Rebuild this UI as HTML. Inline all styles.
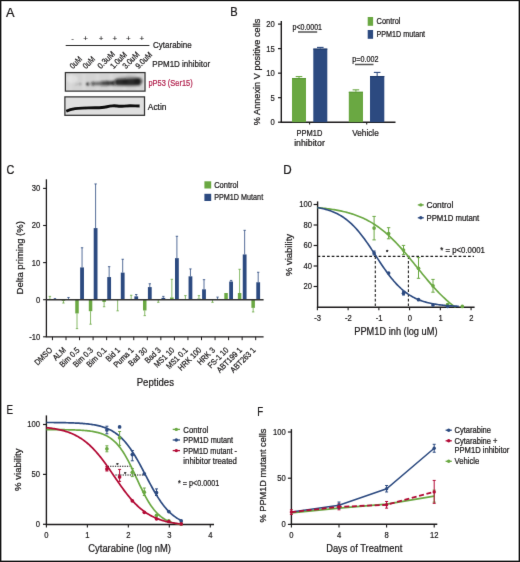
<!DOCTYPE html>
<html><head><meta charset="utf-8"><style>
html,body{margin:0;padding:0;background:#fff;}
body{width:520px;height:562px;overflow:hidden;}
svg{display:block;will-change:transform;font-family:"Liberation Sans", sans-serif;}
</style></head><body>
<svg width="520" height="562" viewBox="0 0 520 562" fill="#1c1a1b" stroke="none">
<defs><filter id="gblur" x="0" y="0" width="520" height="562" filterUnits="userSpaceOnUse" color-interpolation-filters="sRGB"><feConvolveMatrix order="3" kernelMatrix="0.00524 0.06192 0.00524 0.06192 0.73137 0.06192 0.00524 0.06192 0.00524" divisor="1" edgeMode="duplicate" preserveAlpha="true"/></filter></defs>
<rect x="0" y="0" width="520" height="562" fill="#fff"/>
<g filter="url(#gblur)">
<rect x="0" y="0" width="520" height="562" fill="#fff"/>
<text x="5.90" y="16.90" font-size="12.075" stroke="#1c1a1b" stroke-width="0.24" textLength="8.51" lengthAdjust="spacingAndGlyphs" >A</text>
<text x="72.60" y="40.90" font-size="8.0" text-anchor="middle" stroke="#1c1a1b" stroke-width="0.1" >-</text>
<text x="85.70" y="41.10" font-size="8.0" text-anchor="middle" stroke="#1c1a1b" stroke-width="0.12" >+</text>
<text x="101.20" y="41.10" font-size="8.0" text-anchor="middle" stroke="#1c1a1b" stroke-width="0.12" >+</text>
<text x="114.80" y="41.10" font-size="8.0" text-anchor="middle" stroke="#1c1a1b" stroke-width="0.12" >+</text>
<text x="128.30" y="41.10" font-size="8.0" text-anchor="middle" stroke="#1c1a1b" stroke-width="0.12" >+</text>
<text x="141.80" y="41.10" font-size="8.0" text-anchor="middle" stroke="#1c1a1b" stroke-width="0.12" >+</text>
<line x1="65.70" y1="45.50" x2="149.40" y2="45.50" stroke="#2a2a2a" stroke-width="1.0" />
<text x="153.12" y="47.90" font-size="9.66" stroke="#1c1a1b" stroke-width="0.24" textLength="38.57" lengthAdjust="spacingAndGlyphs" >Cytarabine</text>
<text transform="translate(72.96,69.30) rotate(-45)" font-size="8.2" stroke="#1c1a1b" stroke-width="0.24" textLength="13.57" lengthAdjust="spacingAndGlyphs" >0uM</text>
<text transform="translate(85.96,69.30) rotate(-45)" font-size="8.2" stroke="#1c1a1b" stroke-width="0.24" textLength="13.57" lengthAdjust="spacingAndGlyphs" >0uM</text>
<text transform="translate(100.66,69.30) rotate(-45)" font-size="8.2" stroke="#1c1a1b" stroke-width="0.24" textLength="20.93" lengthAdjust="spacingAndGlyphs" >0.3uM</text>
<text transform="translate(113.56,69.30) rotate(-45)" font-size="8.2" stroke="#1c1a1b" stroke-width="0.24" textLength="19.80" lengthAdjust="spacingAndGlyphs" >1.0uM</text>
<text transform="translate(125.76,69.30) rotate(-45)" font-size="8.2" stroke="#1c1a1b" stroke-width="0.24" textLength="20.08" lengthAdjust="spacingAndGlyphs" >3.0uM</text>
<text transform="translate(138.66,69.30) rotate(-45)" font-size="8.2" stroke="#1c1a1b" stroke-width="0.24" textLength="19.80" lengthAdjust="spacingAndGlyphs" >9.0uM</text>
<text x="152.32" y="66.80" font-size="9.66" stroke="#1c1a1b" stroke-width="0.24" textLength="57.77" lengthAdjust="spacingAndGlyphs" >PPM1D inhibitor</text>
<defs><filter id="bl" x="-20%" y="-50%" width="140%" height="200%"><feGaussianBlur stdDeviation="0.9"/></filter><filter id="bl2" x="-20%" y="-50%" width="140%" height="200%"><feGaussianBlur stdDeviation="0.5"/></filter><filter id="bl3" x="-20%" y="-50%" width="140%" height="200%"><feGaussianBlur stdDeviation="1.1"/></filter><clipPath id="cp1"><rect x="66" y="73.2" width="77.9" height="17.2"/></clipPath><clipPath id="cp2"><rect x="65.6" y="97.6" width="78.3" height="17.1"/></clipPath><linearGradient id="bg1" x1="0" x2="0" y1="0" y2="1"><stop offset="0" stop-color="#e2e2e2"/><stop offset="0.5" stop-color="#e8e8e8"/><stop offset="1" stop-color="#e4e4e4"/></linearGradient></defs>
<rect x="65.00" y="72.50" width="80.00" height="18.50" fill="#eeeeee" />
<rect x="66.30" y="73.60" width="77.40" height="16.30" fill="#d3d3d3" filter="url(#bl2)"/>
<g clip-path="url(#cp1)">
<g filter="url(#bl)">
<rect x="69.3" y="73" width="2.4" height="18" fill="#fff" fill-opacity="0.18"/>
<rect x="82.8" y="73" width="2.4" height="18" fill="#fff" fill-opacity="0.18"/>
<rect x="96.3" y="73" width="2.4" height="18" fill="#fff" fill-opacity="0.18"/>
<rect x="109.8" y="73" width="2.4" height="18" fill="#fff" fill-opacity="0.18"/>
<rect x="123.3" y="73" width="2.4" height="18" fill="#fff" fill-opacity="0.18"/>
<rect x="136.8" y="73" width="2.4" height="18" fill="#fff" fill-opacity="0.18"/>
<ellipse cx="72" cy="79" rx="6" ry="4" fill="#fff" fill-opacity="0.3"/>
<ellipse cx="76.5" cy="84.1" rx="1.2" ry="1.0" fill="#111" fill-opacity="0.25"/>
<ellipse cx="80.6" cy="84.1" rx="1.3" ry="1.1" fill="#111" fill-opacity="0.45"/>
<ellipse cx="87.4" cy="84.1" rx="1.6" ry="1.5" fill="#111" fill-opacity="1.0"/>
<defs><linearGradient id="bandg" x1="0" x2="1" y1="0" y2="0"><stop offset="0" stop-color="#111" stop-opacity="0.45"/><stop offset="0.5" stop-color="#111" stop-opacity="0.55"/><stop offset="1" stop-color="#111" stop-opacity="0.75"/></linearGradient></defs>
<path d="M91.5,82 Q100,81.2 115,80.6 L115,85.8 Q100,85.8 91.5,85.4 Q90.3,83.7 91.5,82Z" fill="url(#bandg)"/>
<ellipse cx="92.7" cy="83.6" rx="1.4" ry="1.6" fill="#111" fill-opacity="0.45"/>
<ellipse cx="103.5" cy="83.0" rx="1.6" ry="2.0" fill="#111" fill-opacity="0.4"/>
<ellipse cx="107.2" cy="82.8" rx="1.7" ry="2.0" fill="#111" fill-opacity="0.45"/>
<ellipse cx="111.7" cy="82.6" rx="1.5" ry="1.8" fill="#111" fill-opacity="0.35"/>
</g>
<g filter="url(#bl3)">
<path d="M116,79.2 L139.5,78.0 Q143,81 139.8,85.4 L116,85.6 Q113.5,82.4 116,79.2Z" fill="#151515" fill-opacity="0.82"/>
<ellipse cx="129" cy="81" rx="15" ry="5.2" fill="#111" fill-opacity="0.2"/>
<ellipse cx="125" cy="81.5" rx="3" ry="2.6" fill="#000" fill-opacity="0.35"/>
<ellipse cx="137" cy="81.2" rx="3" ry="2.8" fill="#000" fill-opacity="0.45"/>
</g></g>
<rect x="65.4" y="72.6" width="79.6" height="18.5" fill="none" stroke="#333" stroke-width="1.3"/>
<rect x="64.90" y="96.90" width="79.60" height="18.40" fill="#eeeeee" />
<rect x="66.10" y="98.00" width="77.30" height="16.50" fill="#dfdfdf" filter="url(#bl2)"/>
<g clip-path="url(#cp2)"><g filter="url(#bl2)">
<path d="M66.2,111.3 C68,110.4 71,109.2 75,108.6 S82,108.2 88,107.9 S98,107.9 102,107.5 S108,106.3 112.2,105.9 S117,106.3 120.2,106.3 S126,105.8 130,105.8 S136,106 139.6,106.0" fill="none" stroke="#111" stroke-width="2.9" />
</g></g>
<rect x="64.9" y="96.9" width="79.6" height="18.4" fill="none" stroke="#333" stroke-width="1.3"/>
<text x="148.44" y="85.60" font-size="9.2" fill="#b2224e" stroke="#b2224e" stroke-width="0.24" textLength="44.22" lengthAdjust="spacingAndGlyphs" >pP53 (Ser15)</text>
<text x="147.82" y="109.90" font-size="9.66" stroke="#1c1a1b" stroke-width="0.24" textLength="18.67" lengthAdjust="spacingAndGlyphs" >Actin</text>
<text x="230.30" y="16.00" font-size="12.075" stroke="#1c1a1b" stroke-width="0.24" textLength="7.41" lengthAdjust="spacingAndGlyphs" >B</text>
<line x1="281.30" y1="20.90" x2="281.30" y2="122.20" stroke="#1c1a1b" stroke-width="1.4" />
<line x1="280.60" y1="122.20" x2="395.50" y2="122.20" stroke="#1c1a1b" stroke-width="1.4" />
<line x1="278.00" y1="122.20" x2="281.30" y2="122.20" stroke="#1c1a1b" stroke-width="1.2" />
<text x="274.70" y="125.10" font-size="8.5" text-anchor="end" stroke="#1c1a1b" stroke-width="0.2" textLength="4.25" lengthAdjust="spacingAndGlyphs" >0</text>
<line x1="278.00" y1="97.68" x2="281.30" y2="97.68" stroke="#1c1a1b" stroke-width="1.2" />
<text x="274.70" y="100.58" font-size="8.5" text-anchor="end" stroke="#1c1a1b" stroke-width="0.2" textLength="4.25" lengthAdjust="spacingAndGlyphs" >5</text>
<line x1="278.00" y1="73.15" x2="281.30" y2="73.15" stroke="#1c1a1b" stroke-width="1.2" />
<text x="274.70" y="76.05" font-size="8.5" text-anchor="end" stroke="#1c1a1b" stroke-width="0.2" textLength="8.51" lengthAdjust="spacingAndGlyphs" >10</text>
<line x1="278.00" y1="48.62" x2="281.30" y2="48.62" stroke="#1c1a1b" stroke-width="1.2" />
<text x="274.70" y="51.52" font-size="8.5" text-anchor="end" stroke="#1c1a1b" stroke-width="0.2" textLength="8.51" lengthAdjust="spacingAndGlyphs" >15</text>
<line x1="278.00" y1="24.10" x2="281.30" y2="24.10" stroke="#1c1a1b" stroke-width="1.2" />
<text x="274.70" y="27.00" font-size="8.5" text-anchor="end" stroke="#1c1a1b" stroke-width="0.2" textLength="8.51" lengthAdjust="spacingAndGlyphs" >20</text>
<line x1="309.60" y1="122.20" x2="309.60" y2="124.60" stroke="#1c1a1b" stroke-width="1.1" />
<line x1="366.70" y1="122.20" x2="366.70" y2="124.60" stroke="#1c1a1b" stroke-width="1.1" />
<rect x="292.00" y="78.06" width="14.00" height="44.14" fill="#6aa842" />
<rect x="292.00" y="78.06" width="14.00" height="1.00" fill="#5a9735" />
<line x1="299.00" y1="78.06" x2="299.00" y2="76.58" stroke="#6aa842" stroke-width="1.0" />
<line x1="295.70" y1="76.58" x2="302.30" y2="76.58" stroke="#6aa842" stroke-width="1.1" />
<rect x="313.30" y="48.62" width="14.00" height="73.58" fill="#2c4a80" />
<rect x="313.30" y="48.62" width="14.00" height="1.00" fill="#1d3868" />
<line x1="320.30" y1="48.62" x2="320.30" y2="47.40" stroke="#2c4a80" stroke-width="1.0" />
<line x1="317.00" y1="47.40" x2="323.60" y2="47.40" stroke="#2c4a80" stroke-width="1.1" />
<rect x="348.80" y="91.79" width="14.20" height="30.41" fill="#6aa842" />
<rect x="348.80" y="91.79" width="14.20" height="1.00" fill="#5a9735" />
<line x1="355.90" y1="91.79" x2="355.90" y2="89.83" stroke="#6aa842" stroke-width="1.0" />
<line x1="352.60" y1="89.83" x2="359.20" y2="89.83" stroke="#6aa842" stroke-width="1.1" />
<rect x="370.00" y="76.09" width="14.30" height="46.11" fill="#2c4a80" />
<rect x="370.00" y="76.09" width="14.30" height="1.00" fill="#1d3868" />
<line x1="377.15" y1="76.09" x2="377.15" y2="72.41" stroke="#2c4a80" stroke-width="1.0" />
<line x1="373.85" y1="72.41" x2="380.45" y2="72.41" stroke="#2c4a80" stroke-width="1.1" />
<text x="292.47" y="30.10" font-size="8.625" stroke="#1c1a1b" stroke-width="0.24" textLength="29.56" lengthAdjust="spacingAndGlyphs" >p&lt;0.0001</text>
<line x1="298.00" y1="32.00" x2="317.20" y2="32.00" stroke="#555" stroke-width="1.5" />
<text x="352.27" y="62.00" font-size="8.625" stroke="#1c1a1b" stroke-width="0.24" textLength="26.16" lengthAdjust="spacingAndGlyphs" >p=0.002</text>
<line x1="355.00" y1="64.50" x2="373.50" y2="64.50" stroke="#555" stroke-width="1.5" />
<rect x="367.70" y="17.00" width="5.40" height="8.80" fill="#6aa842" />
<rect x="367.70" y="30.00" width="5.40" height="8.80" fill="#2c4a80" />
<text x="376.56" y="23.80" font-size="8.739999999999998" stroke="#1c1a1b" stroke-width="0.24" textLength="23.87" lengthAdjust="spacingAndGlyphs" >Control</text>
<text x="376.56" y="36.90" font-size="8.739999999999998" stroke="#1c1a1b" stroke-width="0.24" textLength="48.57" lengthAdjust="spacingAndGlyphs" >PPM1D mutant</text>
<text x="296.45" y="135.80" font-size="8.969999999999999" stroke="#1c1a1b" stroke-width="0.24" textLength="25.90" lengthAdjust="spacingAndGlyphs" >PPM1D</text>
<text x="294.15" y="145.60" font-size="8.969999999999999" stroke="#1c1a1b" stroke-width="0.24" textLength="30.70" lengthAdjust="spacingAndGlyphs" >inhibitor</text>
<text x="352.25" y="135.80" font-size="8.969999999999999" stroke="#1c1a1b" stroke-width="0.24" textLength="26.50" lengthAdjust="spacingAndGlyphs" >Vehicle</text>
<text transform="translate(260.20,71.90) rotate(-90)" font-size="9.8" text-anchor="middle" stroke="#1c1a1b" stroke-width="0.24" textLength="106.50" lengthAdjust="spacingAndGlyphs" >% Annexin V positive cells</text>
<text x="6.40" y="174.40" font-size="12.075" stroke="#1c1a1b" stroke-width="0.24" textLength="7.81" lengthAdjust="spacingAndGlyphs" >C</text>
<line x1="46.40" y1="179.30" x2="46.40" y2="336.80" stroke="#1c1a1b" stroke-width="1.3" />
<line x1="43.10" y1="188.40" x2="46.40" y2="188.40" stroke="#1c1a1b" stroke-width="1.1" />
<text x="40.20" y="191.30" font-size="8.5" text-anchor="end" stroke="#1c1a1b" stroke-width="0.2" textLength="8.51" lengthAdjust="spacingAndGlyphs" >30</text>
<line x1="43.10" y1="225.50" x2="46.40" y2="225.50" stroke="#1c1a1b" stroke-width="1.1" />
<text x="40.20" y="228.40" font-size="8.5" text-anchor="end" stroke="#1c1a1b" stroke-width="0.2" textLength="8.51" lengthAdjust="spacingAndGlyphs" >20</text>
<line x1="43.10" y1="262.60" x2="46.40" y2="262.60" stroke="#1c1a1b" stroke-width="1.1" />
<text x="40.20" y="265.50" font-size="8.5" text-anchor="end" stroke="#1c1a1b" stroke-width="0.2" textLength="8.51" lengthAdjust="spacingAndGlyphs" >10</text>
<line x1="43.10" y1="299.70" x2="46.40" y2="299.70" stroke="#1c1a1b" stroke-width="1.1" />
<text x="40.20" y="302.60" font-size="8.5" text-anchor="end" stroke="#1c1a1b" stroke-width="0.2" textLength="4.25" lengthAdjust="spacingAndGlyphs" >0</text>
<line x1="43.10" y1="336.80" x2="46.40" y2="336.80" stroke="#1c1a1b" stroke-width="1.1" />
<text x="40.20" y="339.70" font-size="8.5" text-anchor="end" stroke="#1c1a1b" stroke-width="0.2" textLength="11.06" lengthAdjust="spacingAndGlyphs" >-10</text>
<rect x="48.15" y="298.96" width="3.50" height="0.74" fill="#6aa842" />
<line x1="49.90" y1="298.96" x2="49.90" y2="296.36" stroke="#6aa842" stroke-width="0.8" />
<line x1="48.70" y1="296.36" x2="51.10" y2="296.36" stroke="#6aa842" stroke-width="0.8" />
<rect x="53.05" y="299.33" width="3.80" height="0.37" fill="#2c4a80" />
<line x1="54.95" y1="299.33" x2="54.95" y2="298.59" stroke="#2c4a80" stroke-width="0.8" />
<line x1="53.75" y1="298.59" x2="56.15" y2="298.59" stroke="#2c4a80" stroke-width="0.8" />
<rect x="61.70" y="299.70" width="3.50" height="1.11" fill="#6aa842" />
<line x1="63.45" y1="300.81" x2="63.45" y2="303.04" stroke="#6aa842" stroke-width="0.8" />
<line x1="62.25" y1="303.04" x2="64.65" y2="303.04" stroke="#6aa842" stroke-width="0.8" />
<rect x="66.60" y="298.96" width="3.80" height="0.74" fill="#2c4a80" />
<line x1="68.50" y1="298.96" x2="68.50" y2="297.47" stroke="#2c4a80" stroke-width="0.8" />
<line x1="67.30" y1="297.47" x2="69.70" y2="297.47" stroke="#2c4a80" stroke-width="0.8" />
<rect x="75.25" y="299.70" width="3.50" height="13.73" fill="#6aa842" />
<line x1="77.00" y1="313.43" x2="77.00" y2="328.64" stroke="#6aa842" stroke-width="0.8" />
<line x1="75.80" y1="328.64" x2="78.20" y2="328.64" stroke="#6aa842" stroke-width="0.8" />
<rect x="80.15" y="267.42" width="3.80" height="32.28" fill="#2c4a80" />
<line x1="82.05" y1="267.42" x2="82.05" y2="247.76" stroke="#2c4a80" stroke-width="0.8" />
<line x1="80.85" y1="247.76" x2="83.25" y2="247.76" stroke="#2c4a80" stroke-width="0.8" />
<rect x="88.80" y="299.70" width="3.50" height="11.50" fill="#6aa842" />
<line x1="90.55" y1="311.20" x2="90.55" y2="324.19" stroke="#6aa842" stroke-width="0.8" />
<line x1="89.35" y1="324.19" x2="91.75" y2="324.19" stroke="#6aa842" stroke-width="0.8" />
<rect x="93.70" y="228.10" width="3.80" height="71.60" fill="#2c4a80" />
<line x1="95.60" y1="228.10" x2="95.60" y2="183.95" stroke="#2c4a80" stroke-width="0.8" />
<line x1="94.40" y1="183.95" x2="96.80" y2="183.95" stroke="#2c4a80" stroke-width="0.8" />
<rect x="102.35" y="299.70" width="3.50" height="2.23" fill="#6aa842" />
<line x1="104.10" y1="301.93" x2="104.10" y2="306.75" stroke="#6aa842" stroke-width="0.8" />
<line x1="102.90" y1="306.75" x2="105.30" y2="306.75" stroke="#6aa842" stroke-width="0.8" />
<rect x="107.25" y="277.07" width="3.80" height="22.63" fill="#2c4a80" />
<line x1="109.15" y1="277.07" x2="109.15" y2="266.68" stroke="#2c4a80" stroke-width="0.8" />
<line x1="107.95" y1="266.68" x2="110.35" y2="266.68" stroke="#2c4a80" stroke-width="0.8" />
<rect x="115.90" y="299.70" width="3.50" height="0.37" fill="#6aa842" />
<line x1="117.65" y1="300.07" x2="117.65" y2="310.83" stroke="#6aa842" stroke-width="0.8" />
<line x1="116.45" y1="310.83" x2="118.85" y2="310.83" stroke="#6aa842" stroke-width="0.8" />
<rect x="120.80" y="272.62" width="3.80" height="27.08" fill="#2c4a80" />
<line x1="122.70" y1="272.62" x2="122.70" y2="259.26" stroke="#2c4a80" stroke-width="0.8" />
<line x1="121.50" y1="259.26" x2="123.90" y2="259.26" stroke="#2c4a80" stroke-width="0.8" />
<rect x="129.45" y="298.96" width="3.50" height="0.74" fill="#6aa842" />
<line x1="131.20" y1="298.96" x2="131.20" y2="295.25" stroke="#6aa842" stroke-width="0.8" />
<line x1="130.00" y1="295.25" x2="132.40" y2="295.25" stroke="#6aa842" stroke-width="0.8" />
<rect x="134.35" y="296.36" width="3.80" height="3.34" fill="#2c4a80" />
<line x1="136.25" y1="296.36" x2="136.25" y2="294.51" stroke="#2c4a80" stroke-width="0.8" />
<line x1="135.05" y1="294.51" x2="137.45" y2="294.51" stroke="#2c4a80" stroke-width="0.8" />
<rect x="143.00" y="299.70" width="3.50" height="10.76" fill="#6aa842" />
<line x1="144.75" y1="310.46" x2="144.75" y2="315.65" stroke="#6aa842" stroke-width="0.8" />
<line x1="143.55" y1="315.65" x2="145.95" y2="315.65" stroke="#6aa842" stroke-width="0.8" />
<rect x="147.90" y="287.09" width="3.80" height="12.61" fill="#2c4a80" />
<line x1="149.80" y1="287.09" x2="149.80" y2="283.75" stroke="#2c4a80" stroke-width="0.8" />
<line x1="148.60" y1="283.75" x2="151.00" y2="283.75" stroke="#2c4a80" stroke-width="0.8" />
<rect x="156.55" y="299.70" width="3.50" height="0.37" fill="#6aa842" />
<line x1="158.30" y1="300.07" x2="158.30" y2="302.30" stroke="#6aa842" stroke-width="0.8" />
<line x1="157.10" y1="302.30" x2="159.50" y2="302.30" stroke="#6aa842" stroke-width="0.8" />
<rect x="161.45" y="297.84" width="3.80" height="1.86" fill="#2c4a80" />
<line x1="163.35" y1="297.84" x2="163.35" y2="296.36" stroke="#2c4a80" stroke-width="0.8" />
<line x1="162.15" y1="296.36" x2="164.55" y2="296.36" stroke="#2c4a80" stroke-width="0.8" />
<rect x="170.10" y="297.47" width="3.50" height="2.23" fill="#6aa842" />
<line x1="171.85" y1="297.47" x2="171.85" y2="279.29" stroke="#6aa842" stroke-width="0.8" />
<line x1="170.65" y1="279.29" x2="173.05" y2="279.29" stroke="#6aa842" stroke-width="0.8" />
<rect x="175.00" y="258.15" width="3.80" height="41.55" fill="#2c4a80" />
<line x1="176.90" y1="258.15" x2="176.90" y2="236.26" stroke="#2c4a80" stroke-width="0.8" />
<line x1="175.70" y1="236.26" x2="178.10" y2="236.26" stroke="#2c4a80" stroke-width="0.8" />
<rect x="183.65" y="299.33" width="3.50" height="0.37" fill="#6aa842" />
<line x1="185.40" y1="299.33" x2="185.40" y2="295.62" stroke="#6aa842" stroke-width="0.8" />
<line x1="184.20" y1="295.62" x2="186.60" y2="295.62" stroke="#6aa842" stroke-width="0.8" />
<rect x="188.55" y="276.33" width="3.80" height="23.37" fill="#2c4a80" />
<line x1="190.45" y1="276.33" x2="190.45" y2="268.91" stroke="#2c4a80" stroke-width="0.8" />
<line x1="189.25" y1="268.91" x2="191.65" y2="268.91" stroke="#2c4a80" stroke-width="0.8" />
<rect x="197.20" y="298.59" width="3.50" height="1.11" fill="#6aa842" />
<line x1="198.95" y1="298.59" x2="198.95" y2="295.62" stroke="#6aa842" stroke-width="0.8" />
<line x1="197.75" y1="295.62" x2="200.15" y2="295.62" stroke="#6aa842" stroke-width="0.8" />
<rect x="202.10" y="289.31" width="3.80" height="10.39" fill="#2c4a80" />
<line x1="204.00" y1="289.31" x2="204.00" y2="279.67" stroke="#2c4a80" stroke-width="0.8" />
<line x1="202.80" y1="279.67" x2="205.20" y2="279.67" stroke="#2c4a80" stroke-width="0.8" />
<rect x="210.75" y="299.70" width="3.50" height="0.37" fill="#6aa842" />
<line x1="212.50" y1="300.07" x2="212.50" y2="302.30" stroke="#6aa842" stroke-width="0.8" />
<line x1="211.30" y1="302.30" x2="213.70" y2="302.30" stroke="#6aa842" stroke-width="0.8" />
<rect x="215.65" y="298.96" width="3.80" height="0.74" fill="#2c4a80" />
<line x1="217.55" y1="298.96" x2="217.55" y2="297.10" stroke="#2c4a80" stroke-width="0.8" />
<line x1="216.35" y1="297.10" x2="218.75" y2="297.10" stroke="#2c4a80" stroke-width="0.8" />
<rect x="224.30" y="293.02" width="3.50" height="6.68" fill="#6aa842" />
<rect x="229.20" y="281.52" width="3.80" height="18.18" fill="#2c4a80" />
<line x1="231.10" y1="281.52" x2="231.10" y2="280.41" stroke="#2c4a80" stroke-width="0.8" />
<line x1="229.90" y1="280.41" x2="232.30" y2="280.41" stroke="#2c4a80" stroke-width="0.8" />
<rect x="237.85" y="293.02" width="3.50" height="6.68" fill="#6aa842" />
<line x1="239.60" y1="293.02" x2="239.60" y2="269.28" stroke="#6aa842" stroke-width="0.8" />
<line x1="238.40" y1="269.28" x2="240.80" y2="269.28" stroke="#6aa842" stroke-width="0.8" />
<rect x="242.75" y="254.44" width="3.80" height="45.26" fill="#2c4a80" />
<line x1="244.65" y1="254.44" x2="244.65" y2="230.32" stroke="#2c4a80" stroke-width="0.8" />
<line x1="243.45" y1="230.32" x2="245.85" y2="230.32" stroke="#2c4a80" stroke-width="0.8" />
<rect x="251.40" y="299.70" width="3.50" height="8.16" fill="#6aa842" />
<line x1="253.15" y1="307.86" x2="253.15" y2="311.94" stroke="#6aa842" stroke-width="0.8" />
<line x1="251.95" y1="311.94" x2="254.35" y2="311.94" stroke="#6aa842" stroke-width="0.8" />
<rect x="256.30" y="282.26" width="3.80" height="17.44" fill="#2c4a80" />
<line x1="258.20" y1="282.26" x2="258.20" y2="272.25" stroke="#2c4a80" stroke-width="0.8" />
<line x1="257.00" y1="272.25" x2="259.40" y2="272.25" stroke="#2c4a80" stroke-width="0.8" />
<line x1="46.40" y1="299.70" x2="263.60" y2="299.70" stroke="#333" stroke-width="1.4" />
<line x1="45.80" y1="336.80" x2="263.60" y2="336.80" stroke="#1c1a1b" stroke-width="1.3" />
<line x1="52.45" y1="336.80" x2="52.45" y2="340.20" stroke="#1c1a1b" stroke-width="1.0" />
<text transform="translate(52.85,350.60) rotate(-45)" font-size="8.2" text-anchor="end" stroke="#1c1a1b" stroke-width="0.24" textLength="21.52" lengthAdjust="spacingAndGlyphs" >DMSO</text>
<line x1="66.00" y1="336.80" x2="66.00" y2="340.20" stroke="#1c1a1b" stroke-width="1.0" />
<text transform="translate(66.40,350.60) rotate(-45)" font-size="8.2" text-anchor="end" stroke="#1c1a1b" stroke-width="0.24" textLength="14.75" lengthAdjust="spacingAndGlyphs" >ALM</text>
<line x1="79.55" y1="336.80" x2="79.55" y2="340.20" stroke="#1c1a1b" stroke-width="1.0" />
<text transform="translate(79.95,350.60) rotate(-45)" font-size="8.2" text-anchor="end" stroke="#1c1a1b" stroke-width="0.24" textLength="24.32" lengthAdjust="spacingAndGlyphs" >Bim 0.5</text>
<line x1="93.10" y1="336.80" x2="93.10" y2="340.20" stroke="#1c1a1b" stroke-width="1.0" />
<text transform="translate(93.50,350.60) rotate(-45)" font-size="8.2" text-anchor="end" stroke="#1c1a1b" stroke-width="0.24" textLength="24.32" lengthAdjust="spacingAndGlyphs" >Bim 0.3</text>
<line x1="106.65" y1="336.80" x2="106.65" y2="340.20" stroke="#1c1a1b" stroke-width="1.0" />
<text transform="translate(107.05,350.60) rotate(-45)" font-size="8.2" text-anchor="end" stroke="#1c1a1b" stroke-width="0.24" textLength="24.32" lengthAdjust="spacingAndGlyphs" >Bim 0.1</text>
<line x1="120.20" y1="336.80" x2="120.20" y2="340.20" stroke="#1c1a1b" stroke-width="1.0" />
<text transform="translate(120.60,350.60) rotate(-45)" font-size="8.2" text-anchor="end" stroke="#1c1a1b" stroke-width="0.24" textLength="16.35" lengthAdjust="spacingAndGlyphs" >Bid 1</text>
<line x1="133.75" y1="336.80" x2="133.75" y2="340.20" stroke="#1c1a1b" stroke-width="1.0" />
<text transform="translate(134.15,350.60) rotate(-45)" font-size="8.2" text-anchor="end" stroke="#1c1a1b" stroke-width="0.24" textLength="24.73" lengthAdjust="spacingAndGlyphs" >Puma 1</text>
<line x1="147.30" y1="336.80" x2="147.30" y2="340.20" stroke="#1c1a1b" stroke-width="1.0" />
<text transform="translate(147.70,350.60) rotate(-45)" font-size="8.2" text-anchor="end" stroke="#1c1a1b" stroke-width="0.24" textLength="22.74" lengthAdjust="spacingAndGlyphs" >Bad 30</text>
<line x1="160.85" y1="336.80" x2="160.85" y2="340.20" stroke="#1c1a1b" stroke-width="1.0" />
<text transform="translate(161.25,350.60) rotate(-45)" font-size="8.2" text-anchor="end" stroke="#1c1a1b" stroke-width="0.24" textLength="18.75" lengthAdjust="spacingAndGlyphs" >Bad 3</text>
<line x1="174.40" y1="336.80" x2="174.40" y2="340.20" stroke="#1c1a1b" stroke-width="1.0" />
<text transform="translate(174.80,350.60) rotate(-45)" font-size="8.2" text-anchor="end" stroke="#1c1a1b" stroke-width="0.24" textLength="24.73" lengthAdjust="spacingAndGlyphs" >MS1 10</text>
<line x1="187.95" y1="336.80" x2="187.95" y2="340.20" stroke="#1c1a1b" stroke-width="1.0" />
<text transform="translate(188.35,350.60) rotate(-45)" font-size="8.2" text-anchor="end" stroke="#1c1a1b" stroke-width="0.24" textLength="26.72" lengthAdjust="spacingAndGlyphs" >MS1 0.1</text>
<line x1="201.50" y1="336.80" x2="201.50" y2="340.20" stroke="#1c1a1b" stroke-width="1.0" />
<text transform="translate(201.90,350.60) rotate(-45)" font-size="8.2" text-anchor="end" stroke="#1c1a1b" stroke-width="0.24" textLength="29.11" lengthAdjust="spacingAndGlyphs" >HRK 100</text>
<line x1="215.05" y1="336.80" x2="215.05" y2="340.20" stroke="#1c1a1b" stroke-width="1.0" />
<text transform="translate(215.45,350.60) rotate(-45)" font-size="8.2" text-anchor="end" stroke="#1c1a1b" stroke-width="0.24" textLength="21.13" lengthAdjust="spacingAndGlyphs" >HRK 3</text>
<line x1="228.60" y1="336.80" x2="228.60" y2="340.20" stroke="#1c1a1b" stroke-width="1.0" />
<text transform="translate(229.00,350.60) rotate(-45)" font-size="8.2" text-anchor="end" stroke="#1c1a1b" stroke-width="0.24" textLength="25.52" lengthAdjust="spacingAndGlyphs" >FS-1 10</text>
<line x1="242.15" y1="336.80" x2="242.15" y2="340.20" stroke="#1c1a1b" stroke-width="1.0" />
<text transform="translate(242.55,350.60) rotate(-45)" font-size="8.2" text-anchor="end" stroke="#1c1a1b" stroke-width="0.24" textLength="31.91" lengthAdjust="spacingAndGlyphs" >ABT199 1</text>
<line x1="255.70" y1="336.80" x2="255.70" y2="340.20" stroke="#1c1a1b" stroke-width="1.0" />
<text transform="translate(256.10,350.60) rotate(-45)" font-size="8.2" text-anchor="end" stroke="#1c1a1b" stroke-width="0.24" textLength="31.91" lengthAdjust="spacingAndGlyphs" >ABT263 1</text>
<text x="136.75" y="385.60" font-size="11.04" stroke="#1c1a1b" stroke-width="0.24" textLength="37.20" lengthAdjust="spacingAndGlyphs" >Peptides</text>
<text transform="translate(22.80,257.80) rotate(-90)" font-size="9.8" text-anchor="middle" stroke="#1c1a1b" stroke-width="0.24" textLength="73.20" lengthAdjust="spacingAndGlyphs" >Delta priming (%)</text>
<rect x="204.40" y="181.30" width="6.80" height="7.20" fill="#6aa842" />
<rect x="204.40" y="193.80" width="6.80" height="7.20" fill="#2c4a80" />
<text x="214.15" y="187.60" font-size="8.969999999999999" stroke="#1c1a1b" stroke-width="0.24" textLength="24.30" lengthAdjust="spacingAndGlyphs" >Control</text>
<text x="214.15" y="199.90" font-size="8.969999999999999" stroke="#1c1a1b" stroke-width="0.24" textLength="49.00" lengthAdjust="spacingAndGlyphs" >PPM1D Mutant</text>
<text x="283.20" y="174.00" font-size="12.075" stroke="#1c1a1b" stroke-width="0.24" textLength="8.41" lengthAdjust="spacingAndGlyphs" >D</text>
<line x1="317.60" y1="201.40" x2="317.60" y2="307.30" stroke="#1c1a1b" stroke-width="1.4" />
<line x1="316.90" y1="307.30" x2="474.60" y2="307.30" stroke="#1c1a1b" stroke-width="1.4" />
<line x1="313.60" y1="286.50" x2="317.60" y2="286.50" stroke="#1c1a1b" stroke-width="1.2" />
<text x="312.00" y="289.40" font-size="8.5" text-anchor="end" stroke="#1c1a1b" stroke-width="0.2" textLength="8.51" lengthAdjust="spacingAndGlyphs" >20</text>
<line x1="313.60" y1="266.00" x2="317.60" y2="266.00" stroke="#1c1a1b" stroke-width="1.2" />
<text x="312.00" y="268.90" font-size="8.5" text-anchor="end" stroke="#1c1a1b" stroke-width="0.2" textLength="8.51" lengthAdjust="spacingAndGlyphs" >40</text>
<line x1="313.60" y1="245.50" x2="317.60" y2="245.50" stroke="#1c1a1b" stroke-width="1.2" />
<text x="312.00" y="248.40" font-size="8.5" text-anchor="end" stroke="#1c1a1b" stroke-width="0.2" textLength="8.51" lengthAdjust="spacingAndGlyphs" >60</text>
<line x1="313.60" y1="225.00" x2="317.60" y2="225.00" stroke="#1c1a1b" stroke-width="1.2" />
<text x="312.00" y="227.90" font-size="8.5" text-anchor="end" stroke="#1c1a1b" stroke-width="0.2" textLength="8.51" lengthAdjust="spacingAndGlyphs" >80</text>
<line x1="313.60" y1="204.50" x2="317.60" y2="204.50" stroke="#1c1a1b" stroke-width="1.2" />
<text x="312.00" y="207.40" font-size="8.5" text-anchor="end" stroke="#1c1a1b" stroke-width="0.2" textLength="12.76" lengthAdjust="spacingAndGlyphs" >100</text>
<line x1="317.38" y1="307.30" x2="317.38" y2="310.30" stroke="#1c1a1b" stroke-width="1.1" />
<text x="317.58" y="320.90" font-size="8.5" text-anchor="middle" stroke="#1c1a1b" stroke-width="0.2" textLength="6.80" lengthAdjust="spacingAndGlyphs" >-3</text>
<line x1="348.12" y1="307.30" x2="348.12" y2="310.30" stroke="#1c1a1b" stroke-width="1.1" />
<text x="348.32" y="320.90" font-size="8.5" text-anchor="middle" stroke="#1c1a1b" stroke-width="0.2" textLength="6.80" lengthAdjust="spacingAndGlyphs" >-2</text>
<line x1="378.86" y1="307.30" x2="378.86" y2="310.30" stroke="#1c1a1b" stroke-width="1.1" />
<text x="379.06" y="320.90" font-size="8.5" text-anchor="middle" stroke="#1c1a1b" stroke-width="0.2" textLength="6.80" lengthAdjust="spacingAndGlyphs" >-1</text>
<line x1="409.60" y1="307.30" x2="409.60" y2="310.30" stroke="#1c1a1b" stroke-width="1.1" />
<text x="409.80" y="320.90" font-size="8.5" text-anchor="middle" stroke="#1c1a1b" stroke-width="0.2" textLength="4.25" lengthAdjust="spacingAndGlyphs" >0</text>
<line x1="440.34" y1="307.30" x2="440.34" y2="310.30" stroke="#1c1a1b" stroke-width="1.1" />
<text x="440.54" y="320.90" font-size="8.5" text-anchor="middle" stroke="#1c1a1b" stroke-width="0.2" textLength="4.25" lengthAdjust="spacingAndGlyphs" >1</text>
<line x1="471.08" y1="307.30" x2="471.08" y2="310.30" stroke="#1c1a1b" stroke-width="1.1" />
<text x="471.28" y="320.90" font-size="8.5" text-anchor="middle" stroke="#1c1a1b" stroke-width="0.2" textLength="4.25" lengthAdjust="spacingAndGlyphs" >2</text>
<line x1="317.60" y1="256.40" x2="474.00" y2="256.40" stroke="#1a1a1a" stroke-width="1.1" stroke-dasharray="2.7,2"/>
<line x1="375.30" y1="256.40" x2="375.30" y2="307.30" stroke="#1a1a1a" stroke-width="1.1" stroke-dasharray="2.7,2"/>
<line x1="408.40" y1="256.40" x2="408.40" y2="307.30" stroke="#1a1a1a" stroke-width="1.1" stroke-dasharray="2.7,2"/>
<path d="M317.38,207.61 L318.66,207.73 L319.94,207.85 L321.22,207.98 L322.50,208.11 L323.78,208.25 L325.07,208.40 L326.35,208.56 L327.63,208.72 L328.91,208.89 L330.19,209.07 L331.47,209.26 L332.75,209.46 L334.03,209.67 L335.31,209.89 L336.59,210.11 L337.87,210.35 L339.15,210.61 L340.44,210.87 L341.72,211.15 L343.00,211.43 L344.28,211.74 L345.56,212.05 L346.84,212.39 L348.12,212.73 L349.40,213.10 L350.68,213.48 L351.96,213.88 L353.24,214.29 L354.52,214.73 L355.81,215.18 L357.09,215.65 L358.37,216.15 L359.65,216.66 L360.93,217.20 L362.21,217.76 L363.49,218.35 L364.77,218.95 L366.05,219.59 L367.33,220.25 L368.61,220.93 L369.89,221.64 L371.18,222.38 L372.46,223.15 L373.74,223.94 L375.02,224.77 L376.30,225.62 L377.58,226.51 L378.86,227.42 L380.14,228.37 L381.42,229.35 L382.70,230.35 L383.98,231.39 L385.26,232.46 L386.55,233.57 L387.83,234.70 L389.11,235.86 L390.39,237.06 L391.67,238.28 L392.95,239.54 L394.23,240.82 L395.51,242.13 L396.79,243.47 L398.07,244.84 L399.35,246.23 L400.63,247.65 L401.92,249.09 L403.20,250.55 L404.48,252.04 L405.76,253.54 L407.04,255.05 L408.32,256.59 L409.60,258.14 L410.88,259.70 L412.16,261.26 L413.44,262.84 L414.72,264.42 L416.00,266.01 L417.29,267.60 L418.57,269.19 L419.85,270.77 L421.13,272.35 L422.41,273.93 L423.69,275.49 L424.97,277.05 L426.25,278.59 L427.53,280.11 L428.81,281.63 L430.09,283.12 L431.37,284.59 L432.66,286.05 L433.94,287.48 L435.22,288.88 L436.50,290.26 L437.78,291.62 L439.06,292.95 L440.34,294.25 L441.62,295.52 L442.90,296.76 L444.18,297.97 L445.46,299.16 L446.74,300.31 L448.03,301.43 L449.31,302.51 L450.59,303.57 L451.87,304.60 L453.15,305.59 L454.43,306.55 L455.71,307.00" fill="none" stroke="#6aa842" stroke-width="1.65" />
<path d="M317.38,207.50 L318.56,207.72 L319.74,207.95 L320.92,208.19 L322.09,208.45 L323.27,208.72 L324.45,209.02 L325.63,209.34 L326.81,209.67 L327.99,210.03 L329.16,210.41 L330.34,210.82 L331.52,211.25 L332.70,211.71 L333.88,212.19 L335.06,212.71 L336.23,213.26 L337.41,213.84 L338.59,214.46 L339.77,215.11 L340.95,215.81 L342.13,216.54 L343.30,217.31 L344.48,218.12 L345.66,218.97 L346.84,219.87 L348.02,220.82 L349.20,221.81 L350.37,222.85 L351.55,223.94 L352.73,225.08 L353.91,226.26 L355.09,227.50 L356.27,228.78 L357.44,230.12 L358.62,231.50 L359.80,232.92 L360.98,234.40 L362.16,235.91 L363.34,237.47 L364.51,239.07 L365.69,240.71 L366.87,242.38 L368.05,244.08 L369.23,245.81 L370.41,247.56 L371.58,249.33 L372.76,251.12 L373.94,252.92 L375.12,254.73 L376.30,256.54 L377.48,258.34 L378.66,260.14 L379.83,261.93 L381.01,263.71 L382.19,265.47 L383.37,267.20 L384.55,268.90 L385.73,270.58 L386.90,272.22 L388.08,273.82 L389.26,275.39 L390.44,276.91 L391.62,278.39 L392.80,279.82 L393.97,281.21 L395.15,282.55 L396.33,283.84 L397.51,285.08 L398.69,286.27 L399.87,287.41 L401.04,288.51 L402.22,289.55 L403.40,290.55 L404.58,291.50 L405.76,292.41 L406.94,293.27 L408.11,294.09 L409.29,294.87 L410.47,295.60 L411.65,296.30 L412.83,296.96 L414.01,297.58 L415.18,298.16 L416.36,298.72 L417.54,299.24 L418.72,299.73 L419.90,300.19 L421.08,300.63 L422.25,301.04 L423.43,301.42 L424.61,301.78 L425.79,302.12 L426.97,302.44 L428.15,302.74 L429.32,303.02 L430.50,303.28 L431.68,303.52 L432.86,303.75 L434.04,303.97 L435.22,304.17 L436.40,304.36 L437.57,304.53 L438.75,304.70 L439.93,304.85 L441.11,304.99 L442.29,305.13 L443.47,305.25 L444.64,305.37 L445.82,305.48 L447.00,305.58 L448.18,305.68 L449.36,305.77 L450.54,305.85 L451.71,305.93 L452.89,306.00 L454.07,306.07 L455.25,306.13 L456.43,306.19 L457.61,306.24 L458.78,306.30" fill="none" stroke="#2c4a80" stroke-width="1.65" />
<line x1="374.10" y1="216.40" x2="374.10" y2="239.90" stroke="#6aa842" stroke-width="1.0" />
<line x1="372.40" y1="216.40" x2="375.80" y2="216.40" stroke="#6aa842" stroke-width="1.0" />
<line x1="372.40" y1="239.90" x2="375.80" y2="239.90" stroke="#6aa842" stroke-width="1.0" />
<circle cx="374.10" cy="228.10" r="1.84" fill="#6aa842"/>
<line x1="388.60" y1="227.70" x2="388.60" y2="238.80" stroke="#6aa842" stroke-width="1.0" />
<line x1="386.90" y1="227.70" x2="390.30" y2="227.70" stroke="#6aa842" stroke-width="1.0" />
<line x1="386.90" y1="238.80" x2="390.30" y2="238.80" stroke="#6aa842" stroke-width="1.0" />
<circle cx="388.60" cy="233.50" r="1.84" fill="#6aa842"/>
<line x1="403.50" y1="245.40" x2="403.50" y2="254.40" stroke="#6aa842" stroke-width="1.0" />
<line x1="401.80" y1="245.40" x2="405.20" y2="245.40" stroke="#6aa842" stroke-width="1.0" />
<line x1="401.80" y1="254.40" x2="405.20" y2="254.40" stroke="#6aa842" stroke-width="1.0" />
<circle cx="403.50" cy="250.10" r="1.84" fill="#6aa842"/>
<line x1="418.50" y1="257.60" x2="418.50" y2="278.30" stroke="#6aa842" stroke-width="1.0" />
<line x1="416.80" y1="257.60" x2="420.20" y2="257.60" stroke="#6aa842" stroke-width="1.0" />
<line x1="416.80" y1="278.30" x2="420.20" y2="278.30" stroke="#6aa842" stroke-width="1.0" />
<circle cx="418.50" cy="268.30" r="1.84" fill="#6aa842"/>
<line x1="433.00" y1="279.40" x2="433.00" y2="292.20" stroke="#6aa842" stroke-width="1.0" />
<line x1="431.30" y1="279.40" x2="434.70" y2="279.40" stroke="#6aa842" stroke-width="1.0" />
<line x1="431.30" y1="292.20" x2="434.70" y2="292.20" stroke="#6aa842" stroke-width="1.0" />
<circle cx="433.00" cy="285.80" r="1.84" fill="#6aa842"/>
<circle cx="447.60" cy="304.60" r="1.84" fill="#6aa842"/>
<circle cx="462.30" cy="306.40" r="1.84" fill="#6aa842"/>
<line x1="374.10" y1="251.00" x2="374.10" y2="255.00" stroke="#2c4a80" stroke-width="1.0" />
<line x1="372.60" y1="251.00" x2="375.60" y2="251.00" stroke="#2c4a80" stroke-width="1.0" />
<line x1="372.60" y1="255.00" x2="375.60" y2="255.00" stroke="#2c4a80" stroke-width="1.0" />
<circle cx="374.10" cy="253.00" r="1.84" fill="#2c4a80"/>
<circle cx="388.60" cy="273.00" r="1.84" fill="#2c4a80"/>
<line x1="403.50" y1="291.60" x2="403.50" y2="295.00" stroke="#2c4a80" stroke-width="1.0" />
<line x1="402.00" y1="291.60" x2="405.00" y2="291.60" stroke="#2c4a80" stroke-width="1.0" />
<line x1="402.00" y1="295.00" x2="405.00" y2="295.00" stroke="#2c4a80" stroke-width="1.0" />
<circle cx="403.50" cy="293.30" r="1.84" fill="#2c4a80"/>
<circle cx="418.50" cy="299.70" r="1.84" fill="#2c4a80"/>
<circle cx="433.00" cy="305.00" r="1.84" fill="#2c4a80"/>
<circle cx="447.60" cy="306.30" r="1.84" fill="#2c4a80"/>
<text x="387.10" y="254.00" font-size="6.0" text-anchor="middle" stroke="#1c1a1b" stroke-width="0.3" >*</text>
<line x1="417.80" y1="204.90" x2="423.80" y2="204.90" stroke="#6aa842" stroke-width="1.3" />
<circle cx="420.80" cy="204.90" r="1.72" fill="#6aa842"/>
<line x1="417.80" y1="217.80" x2="423.80" y2="217.80" stroke="#2c4a80" stroke-width="1.3" />
<circle cx="420.80" cy="217.80" r="1.72" fill="#2c4a80"/>
<text x="426.45" y="208.20" font-size="8.969999999999999" stroke="#1c1a1b" stroke-width="0.24" textLength="26.90" lengthAdjust="spacingAndGlyphs" >Control</text>
<text x="426.45" y="221.10" font-size="8.969999999999999" stroke="#1c1a1b" stroke-width="0.24" textLength="52.80" lengthAdjust="spacingAndGlyphs" >PPM1D mutant</text>
<text x="440.25" y="252.50" font-size="8.969999999999999" stroke="#1c1a1b" stroke-width="0.24" textLength="44.70" lengthAdjust="spacingAndGlyphs" >* = p&lt;0.0001</text>
<text transform="translate(291.80,255.00) rotate(-90)" font-size="9.8" text-anchor="middle" stroke="#1c1a1b" stroke-width="0.24" textLength="42.10" lengthAdjust="spacingAndGlyphs" >% viability</text>
<text x="354.28" y="334.50" font-size="10.35" stroke="#1c1a1b" stroke-width="0.24" textLength="83.23" lengthAdjust="spacingAndGlyphs" >PPM1D inh (log uM)</text>
<text x="6.40" y="414.10" font-size="12.075" stroke="#1c1a1b" stroke-width="0.24" textLength="6.51" lengthAdjust="spacingAndGlyphs" >E</text>
<line x1="46.40" y1="415.40" x2="46.40" y2="524.50" stroke="#1c1a1b" stroke-width="1.4" />
<line x1="45.70" y1="524.50" x2="214.00" y2="524.50" stroke="#1c1a1b" stroke-width="1.4" />
<line x1="43.00" y1="524.30" x2="46.40" y2="524.30" stroke="#1c1a1b" stroke-width="1.2" />
<text x="39.90" y="527.20" font-size="8.5" text-anchor="end" stroke="#1c1a1b" stroke-width="0.2" textLength="4.25" lengthAdjust="spacingAndGlyphs" >0</text>
<line x1="43.00" y1="474.40" x2="46.40" y2="474.40" stroke="#1c1a1b" stroke-width="1.2" />
<text x="39.90" y="477.30" font-size="8.5" text-anchor="end" stroke="#1c1a1b" stroke-width="0.2" textLength="8.51" lengthAdjust="spacingAndGlyphs" >50</text>
<line x1="43.00" y1="424.50" x2="46.40" y2="424.50" stroke="#1c1a1b" stroke-width="1.2" />
<text x="39.90" y="427.40" font-size="8.5" text-anchor="end" stroke="#1c1a1b" stroke-width="0.2" textLength="12.76" lengthAdjust="spacingAndGlyphs" >100</text>
<line x1="46.40" y1="524.50" x2="46.40" y2="527.60" stroke="#1c1a1b" stroke-width="1.1" />
<text x="46.40" y="538.20" font-size="8.5" text-anchor="middle" stroke="#1c1a1b" stroke-width="0.2" textLength="4.25" lengthAdjust="spacingAndGlyphs" >0</text>
<line x1="87.37" y1="524.50" x2="87.37" y2="527.60" stroke="#1c1a1b" stroke-width="1.1" />
<text x="87.37" y="538.20" font-size="8.5" text-anchor="middle" stroke="#1c1a1b" stroke-width="0.2" textLength="4.25" lengthAdjust="spacingAndGlyphs" >1</text>
<line x1="128.34" y1="524.50" x2="128.34" y2="527.60" stroke="#1c1a1b" stroke-width="1.1" />
<text x="128.34" y="538.20" font-size="8.5" text-anchor="middle" stroke="#1c1a1b" stroke-width="0.2" textLength="4.25" lengthAdjust="spacingAndGlyphs" >2</text>
<line x1="169.31" y1="524.50" x2="169.31" y2="527.60" stroke="#1c1a1b" stroke-width="1.1" />
<text x="169.31" y="538.20" font-size="8.5" text-anchor="middle" stroke="#1c1a1b" stroke-width="0.2" textLength="4.25" lengthAdjust="spacingAndGlyphs" >3</text>
<line x1="210.28" y1="524.50" x2="210.28" y2="527.60" stroke="#1c1a1b" stroke-width="1.1" />
<text x="210.28" y="538.20" font-size="8.5" text-anchor="middle" stroke="#1c1a1b" stroke-width="0.2" textLength="4.25" lengthAdjust="spacingAndGlyphs" >4</text>
<path d="M46.40,429.60 L47.52,429.60 L48.65,429.61 L49.77,429.61 L50.89,429.62 L52.02,429.62 L53.14,429.63 L54.26,429.63 L55.39,429.64 L56.51,429.64 L57.63,429.65 L58.76,429.66 L59.88,429.67 L61.00,429.68 L62.13,429.69 L63.25,429.71 L64.37,429.72 L65.50,429.74 L66.62,429.76 L67.74,429.77 L68.87,429.80 L69.99,429.82 L71.11,429.85 L72.23,429.88 L73.36,429.91 L74.48,429.94 L75.60,429.98 L76.73,430.03 L77.85,430.08 L78.97,430.13 L80.10,430.19 L81.22,430.25 L82.34,430.32 L83.47,430.40 L84.59,430.49 L85.71,430.59 L86.84,430.69 L87.96,430.81 L89.08,430.94 L90.21,431.08 L91.33,431.24 L92.45,431.41 L93.58,431.60 L94.70,431.81 L95.82,432.05 L96.95,432.30 L98.07,432.58 L99.19,432.89 L100.32,433.23 L101.44,433.60 L102.56,434.00 L103.69,434.45 L104.81,434.94 L105.93,435.47 L107.06,436.05 L108.18,436.69 L109.30,437.38 L110.43,438.14 L111.55,438.96 L112.67,439.84 L113.80,440.81 L114.92,441.85 L116.04,442.96 L117.17,444.17 L118.29,445.46 L119.41,446.84 L120.54,448.32 L121.66,449.88 L122.78,451.55 L123.90,453.30 L125.03,455.15 L126.15,457.09 L127.27,459.11 L128.40,461.22 L129.52,463.40 L130.64,465.64 L131.77,467.95 L132.89,470.30 L134.01,472.69 L135.14,475.11 L136.26,477.54 L137.38,479.97 L138.51,482.39 L139.63,484.80 L140.75,487.16 L141.88,489.48 L143.00,491.75 L144.12,493.95 L145.25,496.08 L146.37,498.14 L147.49,500.10 L148.62,501.98 L149.74,503.77 L150.86,505.47 L151.99,507.07 L153.11,508.57 L154.23,509.99 L155.36,511.31 L156.48,512.54 L157.60,513.69 L158.73,514.75 L159.85,515.74 L160.97,516.65 L162.10,517.50 L163.22,518.27 L164.34,518.99 L165.47,519.64 L166.59,520.24 L167.71,520.79 L168.84,521.29 L169.96,521.75 L171.08,522.17 L172.21,522.56 L173.33,522.91 L174.45,523.22 L175.57,523.51 L176.70,523.78 L177.82,524.02 L178.94,524.23 L180.07,524.30" fill="none" stroke="#6aa842" stroke-width="1.7" />
<path d="M46.40,422.47 L47.52,422.48 L48.65,422.49 L49.77,422.49 L50.89,422.50 L52.02,422.51 L53.14,422.52 L54.26,422.53 L55.39,422.54 L56.51,422.56 L57.63,422.57 L58.76,422.59 L59.88,422.60 L61.00,422.62 L62.13,422.64 L63.25,422.66 L64.37,422.68 L65.50,422.71 L66.62,422.73 L67.74,422.76 L68.87,422.79 L69.99,422.83 L71.11,422.86 L72.23,422.90 L73.36,422.94 L74.48,422.99 L75.60,423.04 L76.73,423.10 L77.85,423.16 L78.97,423.22 L80.10,423.29 L81.22,423.37 L82.34,423.45 L83.47,423.54 L84.59,423.63 L85.71,423.74 L86.84,423.85 L87.96,423.97 L89.08,424.10 L90.21,424.25 L91.33,424.40 L92.45,424.57 L93.58,424.75 L94.70,424.94 L95.82,425.16 L96.95,425.38 L98.07,425.63 L99.19,425.90 L100.32,426.18 L101.44,426.49 L102.56,426.83 L103.69,427.19 L104.81,427.58 L105.93,427.99 L107.06,428.44 L108.18,428.93 L109.30,429.44 L110.43,430.00 L111.55,430.60 L112.67,431.24 L113.80,431.92 L114.92,432.66 L116.04,433.44 L117.17,434.27 L118.29,435.16 L119.41,436.11 L120.54,437.11 L121.66,438.17 L122.78,439.30 L123.90,440.49 L125.03,441.75 L126.15,443.08 L127.27,444.47 L128.40,445.93 L129.52,447.46 L130.64,449.05 L131.77,450.71 L132.89,452.43 L134.01,454.22 L135.14,456.06 L136.26,457.96 L137.38,459.91 L138.51,461.91 L139.63,463.95 L140.75,466.02 L141.88,468.12 L143.00,470.25 L144.12,472.39 L145.25,474.54 L146.37,476.70 L147.49,478.84 L148.62,480.98 L149.74,483.09 L150.86,485.19 L151.99,487.24 L153.11,489.26 L154.23,491.24 L155.36,493.17 L156.48,495.04 L157.60,496.86 L158.73,498.61 L159.85,500.31 L160.97,501.94 L162.10,503.50 L163.22,505.00 L164.34,506.42 L165.47,507.78 L166.59,509.08 L167.71,510.30 L168.84,511.47 L169.96,512.57 L171.08,513.60 L172.21,514.58 L173.33,515.50 L174.45,516.36 L175.57,517.17 L176.70,517.93 L177.82,518.64 L178.94,519.30 L180.07,519.92 L181.19,520.50" fill="none" stroke="#2c4a80" stroke-width="1.7" />
<path d="M46.40,427.64 L47.52,427.76 L48.65,427.89 L49.77,428.04 L50.89,428.19 L52.02,428.35 L53.14,428.52 L54.26,428.70 L55.39,428.90 L56.51,429.10 L57.63,429.32 L58.76,429.56 L59.88,429.81 L61.00,430.07 L62.13,430.35 L63.25,430.65 L64.37,430.96 L65.50,431.30 L66.62,431.65 L67.74,432.03 L68.87,432.42 L69.99,432.85 L71.11,433.29 L72.23,433.76 L73.36,434.26 L74.48,434.79 L75.60,435.35 L76.73,435.93 L77.85,436.55 L78.97,437.20 L80.10,437.89 L81.22,438.61 L82.34,439.36 L83.47,440.15 L84.59,440.98 L85.71,441.85 L86.84,442.76 L87.96,443.71 L89.08,444.70 L90.21,445.74 L91.33,446.81 L92.45,447.93 L93.58,449.08 L94.70,450.28 L95.82,451.52 L96.95,452.80 L98.07,454.12 L99.19,455.48 L100.32,456.88 L101.44,458.31 L102.56,459.77 L103.69,461.26 L104.81,462.79 L105.93,464.34 L107.06,465.91 L108.18,467.50 L109.30,469.12 L110.43,470.74 L111.55,472.38 L112.67,474.02 L113.80,475.67 L114.92,477.32 L116.04,478.97 L117.17,480.60 L118.29,482.23 L119.41,483.85 L120.54,485.45 L121.66,487.03 L122.78,488.58 L123.90,490.11 L125.03,491.61 L126.15,493.08 L127.27,494.52 L128.40,495.92 L129.52,497.29 L130.64,498.61 L131.77,499.90 L132.89,501.15 L134.01,502.36 L135.14,503.53 L136.26,504.65 L137.38,505.74 L138.51,506.78 L139.63,507.78 L140.75,508.74 L141.88,509.65 L143.00,510.53 L144.12,511.37 L145.25,512.17 L146.37,512.94 L147.49,513.66 L148.62,514.36 L149.74,515.01 L150.86,515.64 L151.99,516.23 L153.11,516.79 L154.23,517.33 L155.36,517.83 L156.48,518.31 L157.60,518.76 L158.73,519.19 L159.85,519.59 L160.97,519.97 L162.10,520.33 L163.22,520.67 L164.34,520.99 L165.47,521.29 L166.59,521.58 L167.71,521.84 L168.84,522.09 L169.96,522.33 L171.08,522.55 L172.21,522.76 L173.33,522.96 L174.45,523.14 L175.57,523.32 L176.70,523.48 L177.82,523.64 L178.94,523.78 L180.07,523.91 L181.19,524.04" fill="none" stroke="#b30b36" stroke-width="1.75" />
<line x1="107.70" y1="466.25" x2="129.80" y2="466.25" stroke="#111" stroke-width="1.0" stroke-dasharray="1.3,1.1"/>
<line x1="115.40" y1="475.00" x2="143.75" y2="475.00" stroke="#111" stroke-width="1.0" stroke-dasharray="1.3,1.1"/>
<text x="117.30" y="467.30" font-size="6.0" text-anchor="middle" stroke="#1c1a1b" stroke-width="0.24" >*</text>
<text x="125.20" y="476.00" font-size="6.0" text-anchor="middle" stroke="#1c1a1b" stroke-width="0.24" >*</text>
<line x1="106.90" y1="445.80" x2="106.90" y2="451.80" stroke="#6aa842" stroke-width="1.0" />
<line x1="105.40" y1="445.80" x2="108.40" y2="445.80" stroke="#6aa842" stroke-width="1.0" />
<line x1="105.40" y1="451.80" x2="108.40" y2="451.80" stroke="#6aa842" stroke-width="1.0" />
<circle cx="106.90" cy="448.80" r="1.84" fill="#6aa842"/>
<line x1="119.60" y1="431.50" x2="119.60" y2="445.40" stroke="#6aa842" stroke-width="1.0" />
<line x1="118.10" y1="431.50" x2="121.10" y2="431.50" stroke="#6aa842" stroke-width="1.0" />
<line x1="118.10" y1="445.40" x2="121.10" y2="445.40" stroke="#6aa842" stroke-width="1.0" />
<circle cx="119.60" cy="437.80" r="1.84" fill="#6aa842"/>
<line x1="132.30" y1="468.50" x2="132.30" y2="476.60" stroke="#6aa842" stroke-width="1.0" />
<line x1="130.80" y1="468.50" x2="133.80" y2="468.50" stroke="#6aa842" stroke-width="1.0" />
<line x1="130.80" y1="476.60" x2="133.80" y2="476.60" stroke="#6aa842" stroke-width="1.0" />
<circle cx="132.30" cy="472.30" r="1.84" fill="#6aa842"/>
<line x1="144.30" y1="488.00" x2="144.30" y2="495.50" stroke="#6aa842" stroke-width="1.0" />
<line x1="142.80" y1="488.00" x2="145.80" y2="488.00" stroke="#6aa842" stroke-width="1.0" />
<line x1="142.80" y1="495.50" x2="145.80" y2="495.50" stroke="#6aa842" stroke-width="1.0" />
<circle cx="144.30" cy="492.20" r="1.84" fill="#6aa842"/>
<circle cx="156.50" cy="515.30" r="1.84" fill="#6aa842"/>
<circle cx="168.80" cy="520.90" r="1.84" fill="#6aa842"/>
<circle cx="181.20" cy="523.90" r="1.84" fill="#6aa842"/>
<line x1="106.90" y1="426.20" x2="106.90" y2="433.80" stroke="#2c4a80" stroke-width="1.0" />
<line x1="105.40" y1="426.20" x2="108.40" y2="426.20" stroke="#2c4a80" stroke-width="1.0" />
<line x1="105.40" y1="433.80" x2="108.40" y2="433.80" stroke="#2c4a80" stroke-width="1.0" />
<circle cx="106.90" cy="429.90" r="1.84" fill="#2c4a80"/>
<circle cx="119.60" cy="426.90" r="1.84" fill="#2c4a80"/>
<line x1="132.30" y1="450.50" x2="132.30" y2="460.80" stroke="#2c4a80" stroke-width="1.0" />
<line x1="130.80" y1="450.50" x2="133.80" y2="450.50" stroke="#2c4a80" stroke-width="1.0" />
<line x1="130.80" y1="460.80" x2="133.80" y2="460.80" stroke="#2c4a80" stroke-width="1.0" />
<circle cx="132.30" cy="454.60" r="1.84" fill="#2c4a80"/>
<circle cx="144.30" cy="473.80" r="1.84" fill="#2c4a80"/>
<line x1="156.50" y1="488.90" x2="156.50" y2="495.50" stroke="#2c4a80" stroke-width="1.0" />
<line x1="155.00" y1="488.90" x2="158.00" y2="488.90" stroke="#2c4a80" stroke-width="1.0" />
<line x1="155.00" y1="495.50" x2="158.00" y2="495.50" stroke="#2c4a80" stroke-width="1.0" />
<circle cx="156.50" cy="492.70" r="1.84" fill="#2c4a80"/>
<circle cx="168.80" cy="511.60" r="1.84" fill="#2c4a80"/>
<circle cx="181.20" cy="520.90" r="1.84" fill="#2c4a80"/>
<line x1="106.90" y1="466.50" x2="106.90" y2="471.00" stroke="#b30b36" stroke-width="1.0" />
<line x1="105.40" y1="466.50" x2="108.40" y2="466.50" stroke="#b30b36" stroke-width="1.0" />
<line x1="105.40" y1="471.00" x2="108.40" y2="471.00" stroke="#b30b36" stroke-width="1.0" />
<circle cx="106.90" cy="468.90" r="1.84" fill="#b30b36"/>
<line x1="119.60" y1="469.40" x2="119.60" y2="481.40" stroke="#b30b36" stroke-width="1.0" />
<line x1="118.10" y1="469.40" x2="121.10" y2="469.40" stroke="#b30b36" stroke-width="1.0" />
<line x1="118.10" y1="481.40" x2="121.10" y2="481.40" stroke="#b30b36" stroke-width="1.0" />
<circle cx="119.60" cy="476.90" r="1.84" fill="#b30b36"/>
<circle cx="132.30" cy="500.80" r="1.84" fill="#b30b36"/>
<circle cx="144.30" cy="512.30" r="1.84" fill="#b30b36"/>
<circle cx="156.50" cy="518.80" r="1.84" fill="#b30b36"/>
<circle cx="168.80" cy="521.50" r="1.84" fill="#b30b36"/>
<circle cx="181.20" cy="523.90" r="1.84" fill="#b30b36"/>
<line x1="172.70" y1="429.40" x2="180.00" y2="429.40" stroke="#6aa842" stroke-width="1.3" />
<circle cx="176.30" cy="429.40" r="1.72" fill="#6aa842"/>
<line x1="172.70" y1="440.00" x2="180.00" y2="440.00" stroke="#2c4a80" stroke-width="1.3" />
<circle cx="176.30" cy="440.00" r="1.72" fill="#2c4a80"/>
<line x1="172.70" y1="450.60" x2="180.00" y2="450.60" stroke="#b30b36" stroke-width="1.3" />
<circle cx="176.30" cy="450.60" r="1.72" fill="#b30b36"/>
<text x="183.35" y="433.10" font-size="8.969999999999999" stroke="#1c1a1b" stroke-width="0.24" textLength="24.80" lengthAdjust="spacingAndGlyphs" >Control</text>
<text x="183.35" y="443.30" font-size="8.969999999999999" stroke="#1c1a1b" stroke-width="0.24" textLength="49.80" lengthAdjust="spacingAndGlyphs" >PPM1D mutant</text>
<text x="183.35" y="453.90" font-size="8.969999999999999" stroke="#1c1a1b" stroke-width="0.24" textLength="53.60" lengthAdjust="spacingAndGlyphs" >PPM1D mutant -</text>
<text x="183.35" y="463.90" font-size="8.969999999999999" stroke="#1c1a1b" stroke-width="0.24" textLength="53.60" lengthAdjust="spacingAndGlyphs" >inhibitor treated</text>
<text x="178.05" y="486.00" font-size="8.969999999999999" stroke="#1c1a1b" stroke-width="0.24" textLength="41.20" lengthAdjust="spacingAndGlyphs" >* = p&lt;0.0001</text>
<text transform="translate(20.80,469.70) rotate(-90)" font-size="9.6" text-anchor="middle" stroke="#1c1a1b" stroke-width="0.24" textLength="42.40" lengthAdjust="spacingAndGlyphs" >% viability</text>
<text x="88.27" y="551.60" font-size="10.579999999999998" stroke="#1c1a1b" stroke-width="0.24" textLength="82.66" lengthAdjust="spacingAndGlyphs" >Cytarabine (log nM)</text>
<text x="257.30" y="415.50" font-size="12.075" stroke="#1c1a1b" stroke-width="0.24" textLength="5.91" lengthAdjust="spacingAndGlyphs" >F</text>
<line x1="291.40" y1="429.10" x2="291.40" y2="524.30" stroke="#1c1a1b" stroke-width="1.4" />
<line x1="290.70" y1="524.30" x2="437.30" y2="524.30" stroke="#1c1a1b" stroke-width="1.4" />
<line x1="287.90" y1="524.40" x2="291.40" y2="524.40" stroke="#1c1a1b" stroke-width="1.2" />
<text x="285.70" y="527.30" font-size="8.5" text-anchor="end" stroke="#1c1a1b" stroke-width="0.2" textLength="4.25" lengthAdjust="spacingAndGlyphs" >0</text>
<line x1="287.90" y1="478.20" x2="291.40" y2="478.20" stroke="#1c1a1b" stroke-width="1.2" />
<text x="285.70" y="481.10" font-size="8.5" text-anchor="end" stroke="#1c1a1b" stroke-width="0.2" textLength="8.51" lengthAdjust="spacingAndGlyphs" >50</text>
<line x1="287.90" y1="432.00" x2="291.40" y2="432.00" stroke="#1c1a1b" stroke-width="1.2" />
<text x="285.70" y="434.90" font-size="8.5" text-anchor="end" stroke="#1c1a1b" stroke-width="0.2" textLength="12.76" lengthAdjust="spacingAndGlyphs" >100</text>
<line x1="291.40" y1="524.30" x2="291.40" y2="527.50" stroke="#1c1a1b" stroke-width="1.1" />
<text x="291.40" y="537.60" font-size="8.5" text-anchor="middle" stroke="#1c1a1b" stroke-width="0.2" textLength="4.25" lengthAdjust="spacingAndGlyphs" >0</text>
<line x1="339.00" y1="524.30" x2="339.00" y2="527.50" stroke="#1c1a1b" stroke-width="1.1" />
<text x="339.00" y="537.60" font-size="8.5" text-anchor="middle" stroke="#1c1a1b" stroke-width="0.2" textLength="4.25" lengthAdjust="spacingAndGlyphs" >4</text>
<line x1="386.60" y1="524.30" x2="386.60" y2="527.50" stroke="#1c1a1b" stroke-width="1.1" />
<text x="386.60" y="537.60" font-size="8.5" text-anchor="middle" stroke="#1c1a1b" stroke-width="0.2" textLength="4.25" lengthAdjust="spacingAndGlyphs" >8</text>
<line x1="434.20" y1="524.30" x2="434.20" y2="527.50" stroke="#1c1a1b" stroke-width="1.1" />
<text x="434.20" y="537.60" font-size="8.5" text-anchor="middle" stroke="#1c1a1b" stroke-width="0.2" textLength="8.51" lengthAdjust="spacingAndGlyphs" >12</text>
<path d="M291.40,512.85 L339.00,508.14 L386.60,504.07 L434.20,496.13" fill="none" stroke="#6aa842" stroke-width="1.7" />
<path d="M291.40,512.11 L339.00,505.27 L386.60,488.73 L434.20,448.26" fill="none" stroke="#2c4a80" stroke-width="1.5" />
<path d="M291.40,512.11 L339.00,506.84 L386.60,504.81 L434.20,491.88" fill="none" stroke="#b30b36" stroke-width="1.8" stroke-dasharray="5,2.6"/>
<line x1="434.20" y1="490.12" x2="434.20" y2="502.13" stroke="#6aa842" stroke-width="1.0" />
<line x1="432.70" y1="490.12" x2="435.70" y2="490.12" stroke="#6aa842" stroke-width="1.0" />
<line x1="432.70" y1="502.13" x2="435.70" y2="502.13" stroke="#6aa842" stroke-width="1.0" />
<line x1="339.00" y1="502.04" x2="339.00" y2="508.51" stroke="#2c4a80" stroke-width="1.0" />
<line x1="337.50" y1="502.04" x2="340.50" y2="502.04" stroke="#2c4a80" stroke-width="1.0" />
<line x1="337.50" y1="508.51" x2="340.50" y2="508.51" stroke="#2c4a80" stroke-width="1.0" />
<line x1="386.60" y1="485.50" x2="386.60" y2="491.97" stroke="#2c4a80" stroke-width="1.0" />
<line x1="385.10" y1="485.50" x2="388.10" y2="485.50" stroke="#2c4a80" stroke-width="1.0" />
<line x1="385.10" y1="491.97" x2="388.10" y2="491.97" stroke="#2c4a80" stroke-width="1.0" />
<line x1="434.20" y1="444.29" x2="434.20" y2="452.24" stroke="#2c4a80" stroke-width="1.0" />
<line x1="432.70" y1="444.29" x2="435.70" y2="444.29" stroke="#2c4a80" stroke-width="1.0" />
<line x1="432.70" y1="452.24" x2="435.70" y2="452.24" stroke="#2c4a80" stroke-width="1.0" />
<line x1="291.40" y1="509.80" x2="291.40" y2="514.42" stroke="#b30b36" stroke-width="1.0" />
<line x1="289.90" y1="509.80" x2="292.90" y2="509.80" stroke="#b30b36" stroke-width="1.0" />
<line x1="289.90" y1="514.42" x2="292.90" y2="514.42" stroke="#b30b36" stroke-width="1.0" />
<line x1="339.00" y1="503.89" x2="339.00" y2="509.80" stroke="#b30b36" stroke-width="1.0" />
<line x1="337.50" y1="503.89" x2="340.50" y2="503.89" stroke="#b30b36" stroke-width="1.0" />
<line x1="337.50" y1="509.80" x2="340.50" y2="509.80" stroke="#b30b36" stroke-width="1.0" />
<line x1="386.60" y1="501.48" x2="386.60" y2="508.14" stroke="#b30b36" stroke-width="1.0" />
<line x1="385.10" y1="501.48" x2="388.10" y2="501.48" stroke="#b30b36" stroke-width="1.0" />
<line x1="385.10" y1="508.14" x2="388.10" y2="508.14" stroke="#b30b36" stroke-width="1.0" />
<line x1="434.20" y1="480.42" x2="434.20" y2="503.33" stroke="#b30b36" stroke-width="1.0" />
<line x1="432.70" y1="480.42" x2="435.70" y2="480.42" stroke="#b30b36" stroke-width="1.0" />
<line x1="432.70" y1="503.33" x2="435.70" y2="503.33" stroke="#b30b36" stroke-width="1.0" />
<circle cx="291.40" cy="512.11" r="1.72" fill="#b30b36"/>
<circle cx="339.00" cy="505.27" r="1.72" fill="#2c4a80"/>
<circle cx="386.60" cy="488.73" r="1.72" fill="#2c4a80"/>
<circle cx="434.20" cy="448.26" r="1.72" fill="#2c4a80"/>
<circle cx="339.00" cy="506.84" r="1.72" fill="#b30b36"/>
<circle cx="386.60" cy="504.81" r="1.72" fill="#b30b36"/>
<circle cx="434.20" cy="491.88" r="1.72" fill="#b30b36"/>
<line x1="445.60" y1="430.20" x2="451.80" y2="430.20" stroke="#2c4a80" stroke-width="1.3" />
<circle cx="448.70" cy="430.20" r="1.72" fill="#2c4a80"/>
<line x1="445.60" y1="440.80" x2="451.80" y2="440.80" stroke="#b30b36" stroke-width="1.3" />
<circle cx="448.70" cy="440.80" r="1.72" fill="#b30b36"/>
<line x1="445.60" y1="461.30" x2="451.80" y2="461.30" stroke="#6aa842" stroke-width="1.3" />
<circle cx="448.70" cy="461.30" r="1.72" fill="#6aa842"/>
<text x="454.46" y="432.90" font-size="8.739999999999998" stroke="#1c1a1b" stroke-width="0.24" textLength="36.57" lengthAdjust="spacingAndGlyphs" >Cytarabine</text>
<text x="454.46" y="443.50" font-size="8.739999999999998" stroke="#1c1a1b" stroke-width="0.24" textLength="43.07" lengthAdjust="spacingAndGlyphs" >Cytarabine +</text>
<text x="454.46" y="452.80" font-size="8.739999999999998" stroke="#1c1a1b" stroke-width="0.24" textLength="54.87" lengthAdjust="spacingAndGlyphs" >PPM1D inhibitor</text>
<text x="454.46" y="464.00" font-size="8.739999999999998" stroke="#1c1a1b" stroke-width="0.24" textLength="24.77" lengthAdjust="spacingAndGlyphs" >Vehicle</text>
<text transform="translate(265.50,475.50) rotate(-90)" font-size="9.8" text-anchor="middle" stroke="#1c1a1b" stroke-width="0.24" textLength="93.90" lengthAdjust="spacingAndGlyphs" >% PPM1D mutant cells</text>
<text x="326.18" y="551.50" font-size="10.35" stroke="#1c1a1b" stroke-width="0.24" textLength="76.14" lengthAdjust="spacingAndGlyphs" >Days of Treatment</text>
</g>
<rect x="0.7" y="0.5" width="518.6" height="560.8" fill="none" stroke="#1a1a1a" stroke-width="1.4"/>
</svg>
</body></html>
